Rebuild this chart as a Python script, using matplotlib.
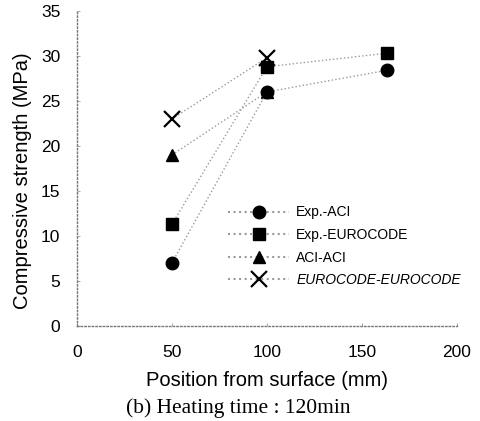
import matplotlib.pyplot as plt
from matplotlib.lines import Line2D

# position from surface (mm)
pos_exp = [50, 100, 163]
pos_model = [50, 100]

# compressive strength (MPa), heating time 120 min
exp_aci = [7.0, 26.0, 28.4]
exp_euro = [11.3, 28.8, 30.3]
aci_aci = [19.0, 26.0]
euro_euro = [23.0, 29.8]

labels = ['Exp.-ACI', 'Exp.-EUROCODE', 'ACI-ACI', 'EUROCODE-EUROCODE']

plt.rcParams['font.family'] = ['Liberation Sans', 'DejaVu Sans']

fig = plt.figure(figsize=(4.81, 4.21), dpi=100)
ax = fig.add_axes([0.160, 0.226, 0.790, 0.748])

line_kw = dict(color='#9a9a9a', linestyle=':', linewidth=1.0)
ax.plot(pos_model, euro_euro, marker='x', markersize=11, markeredgewidth=1.6,
        markeredgecolor='black', **line_kw)
ax.plot(pos_model, aci_aci, marker='^', markersize=8.5, markerfacecolor='black',
        markeredgecolor='black', **line_kw)
ax.plot(pos_exp, exp_euro, marker='s', markersize=8.5, markerfacecolor='black',
        markeredgecolor='black', **line_kw)
ax.plot(pos_exp, exp_aci, marker='o', markersize=9, markerfacecolor='black',
        markeredgecolor='black', **line_kw)

ax.set_xlim(0, 200)
ax.set_ylim(0, 35)
ax.set_xticks([0, 50, 100, 150, 200])
ax.set_yticks(range(0, 36, 5))
ax.tick_params(direction='in', length=2, width=0.6, colors='#999999',
               labelcolor='black', labelsize=12.5)
ax.tick_params(axis='x', pad=14)
ax.tick_params(axis='y', pad=12)
for s in ['top', 'right']:
    ax.spines[s].set_visible(False)
for s in ['left', 'bottom']:
    ax.spines[s].set_linestyle(':')
    ax.spines[s].set_color('#777777')
    ax.spines[s].set_linewidth(1.0)

ax.set_xlabel('Position from surface (mm)', fontsize=14.5, labelpad=8)
ax.set_ylabel('Compressive strength (MPa)', fontsize=14.5)
ax.yaxis.set_label_coords(-0.118, 0.46)
fig.text(0.495, 0.008, '(b) Heating time : 120min', ha='center', va='bottom',
         fontsize=15.5, family='Liberation Serif')

handles = [
    Line2D([], [], marker='o', markersize=9, color='#9a9a9a', linestyle=':',
           markerfacecolor='black', markeredgecolor='black'),
    Line2D([], [], marker='s', markersize=8.5, color='#9a9a9a', linestyle=':',
           markerfacecolor='black', markeredgecolor='black'),
    Line2D([], [], marker='^', markersize=8.5, color='#9a9a9a', linestyle=':',
           markerfacecolor='black', markeredgecolor='black'),
    Line2D([], [], marker='x', markersize=11, markeredgewidth=1.6, color='#9a9a9a',
           linestyle=':', markeredgecolor='black'),
]
leg = ax.legend(handles, labels, loc='upper left', bbox_to_anchor=(0.383, 0.40),
                frameon=False, fontsize=10, handlelength=4.4, handletextpad=0.5,
                labelspacing=0.62, borderaxespad=0)
leg.get_texts()[3].set_fontstyle('italic')

fig.savefig('out.png', dpi=100)
